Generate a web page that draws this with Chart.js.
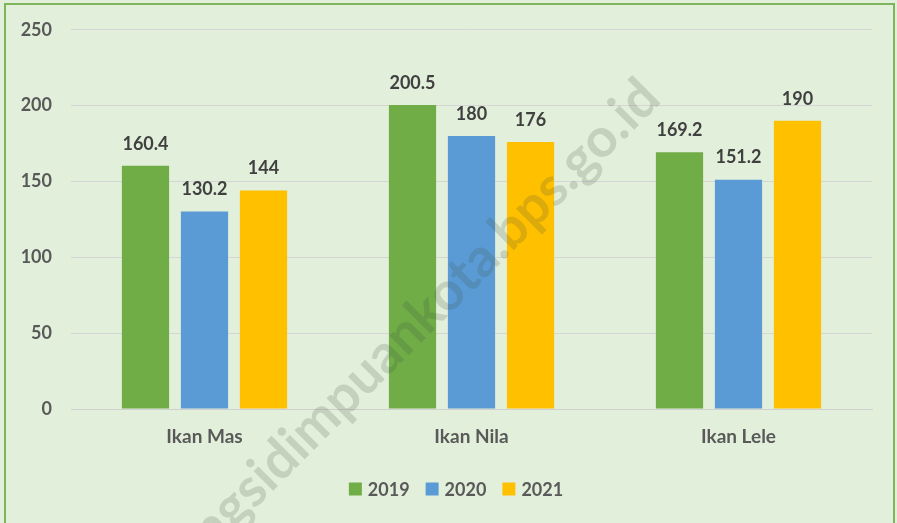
<!DOCTYPE html>
<html lang="id">
<head>
<meta charset="UTF-8">
<title>Produksi Ikan</title>
<style>
  html, body { margin: 0; padding: 0; background: #e2efda; overflow: hidden; }
  #wrap { position: relative; width: 897px; height: 523px; }
  #frame { position: absolute; left: 4px; top: 3px; width: 891px; height: 530px; border: 2px solid #7fb55a; box-sizing: border-box; pointer-events: none; }
  canvas { display: block; }
</style>
</head>
<body>
<div id="wrap">
  <canvas id="chart" width="897" height="523"></canvas>
  <div id="frame"></div>
</div>
<script src="https://cdn.jsdelivr.net/npm/chart.js"></script>
<script>
const categories = ['Ikan Mas', 'Ikan Nila', 'Ikan Lele'];
const years = ['2019', '2020', '2021'];
const values2019 = [160.4, 200.5, 169.2];
const values2020 = [130.2, 180, 151.2];
const values2021 = [144, 176, 190];
const colors = ['#70ad47', '#5b9bd5', '#ffc000'];
const fontFam = 'Lato, "Open Sans", sans-serif';

// translucent watermark over the bars
const watermark = {
  id: 'watermark',
  afterDatasetsDraw(chart) {
    const ctx = chart.ctx;
    ctx.save();
    ctx.translate(663, 101);
    ctx.rotate(-45 * Math.PI / 180);
    ctx.font = 'bold 54px ' + fontFam;
    ctx.fillStyle = 'rgba(60,75,60,0.18)';
    ctx.textAlign = 'right';
    ctx.textBaseline = 'alphabetic';
    ctx.fillText('padangsidimpuankota.bps.go.id', 0, 0);
    ctx.restore();
  }
};

// values above bars
const barLabels = {
  id: 'barLabels',
  afterDatasetsDraw(chart) {
    const ctx = chart.ctx;
    ctx.save();
    ctx.font = 'bold 18px ' + fontFam;
    ctx.fillStyle = '#404040';
    ctx.textAlign = 'center';
    ctx.textBaseline = 'bottom';
    chart.data.datasets.forEach((ds, i) => {
      chart.getDatasetMeta(i).data.forEach((bar, j) => {
        ctx.fillText(String(ds.data[j]), bar.x, bar.y - 13);
      });
    });
    ctx.restore();
  }
};

// legend drawn by hand so the box/text gaps match
const yearLegend = {
  id: 'yearLegend',
  afterDraw(chart) {
    const ctx = chart.ctx;
    ctx.save();
    ctx.font = 'bold 18px ' + fontFam;
    ctx.textBaseline = 'middle';
    ctx.textAlign = 'left';
    const box = 13, gap = 6, itemGap = 16;
    const ds = chart.data.datasets;
    const widths = ds.map(d => box + gap + ctx.measureText(d.label).width);
    const total = widths.reduce((a, b) => a + b, 0) + itemGap * (ds.length - 1);
    let x = 456 - total / 2;
    const y = 489;
    ds.forEach((d, i) => {
      ctx.fillStyle = d.backgroundColor;
      ctx.fillRect(x, y - box / 2, box, box);
      ctx.fillStyle = '#595959';
      ctx.fillText(d.label, x + box + gap, y + 1);
      x += widths[i] + itemGap;
    });
    ctx.restore();
  }
};

new Chart(document.getElementById('chart'), {
  type: 'bar',
  data: {
    labels: categories,
    datasets: [
      { label: years[0], data: values2019, backgroundColor: colors[0] },
      { label: years[1], data: values2020, backgroundColor: colors[1] },
      { label: years[2], data: values2021, backgroundColor: colors[2] }
    ]
  },
  options: {
    responsive: false,
    animation: false,
    categoryPercentage: 0.663,
    barPercentage: 0.8,
    layout: { padding: { left: 0, right: 25, top: 22, bottom: 64 } },
    plugins: {
      legend: { display: false },
      tooltip: { enabled: false }
    },
    scales: {
      x: {
        grid: { display: false },
        border: { color: '#d0d0d0' },
        ticks: { color: '#595959', padding: 8, font: { family: fontFam, size: 19, weight: 'bold' } },
        afterFit: s => { s.height = 50; }
      },
      y: {
        min: 0, max: 250,
        ticks: { stepSize: 50, color: '#595959', padding: 19, font: { family: fontFam, size: 18, weight: 'bold' } },
        grid: { color: '#d5d5d5', drawTicks: false },
        border: { display: false },
        afterFit: s => { s.width = 71; }
      }
    }
  },
  plugins: [watermark, barLabels, yearLegend]
});
</script>
</body>
</html>
